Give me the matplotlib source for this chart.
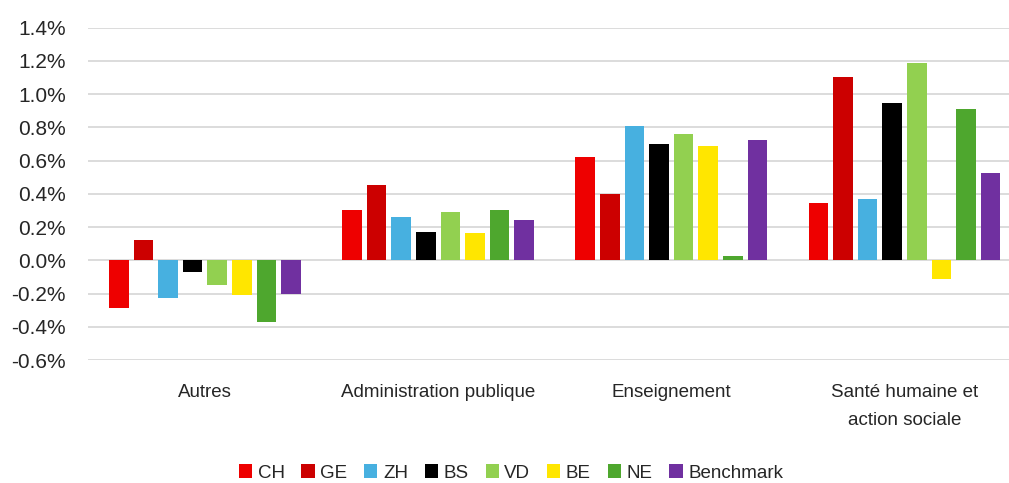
import numpy as np
import matplotlib
matplotlib.use("Agg")
import matplotlib.pyplot as plt
from matplotlib.ticker import PercentFormatter, MultipleLocator
from matplotlib import font_manager as fm

# categories and series (values as fractions)
categories = ['Autres', 'Administration publique', 'Enseignement',
              'Santé humaine et\naction sociale']
regions = ['CH', 'GE', 'ZH', 'BS', 'VD', 'BE', 'NE', 'Benchmark']
CH = [-0.00286, 0.00300, 0.00624, 0.00344]
GE = [0.00120, 0.00452, 0.00400, 0.01104]
ZH = [-0.00228, 0.00260, 0.00806, 0.00372]
BS = [-0.00072, 0.00168, 0.00702, 0.00948]
VD = [-0.00150, 0.00290, 0.00758, 0.01188]
BE = [-0.00206, 0.00164, 0.00688, -0.00114]
NE = [-0.00372, 0.00300, 0.00024, 0.00912]
Benchmark = [-0.00200, 0.00240, 0.00726, 0.00524]
series = [CH, GE, ZH, BS, VD, BE, NE, Benchmark]
colors = ['#EE0000', '#CC0000', '#47B0E0', '#000000',
          '#92D050', '#FFE600', '#4EA72E', '#7030A0']

plt.rcParams['font.family'] = ['Liberation Sans', 'DejaVu Sans']
plt.rcParams['axes.unicode_minus'] = False  # excel uses a plain hyphen

fig = plt.figure(figsize=(10.09, 4.83), dpi=100)
W, H = 1009.0, 483.0
ax = fig.add_axes([88.3 / W, (H - 360) / H, (1021 - 88.3) / W, (360 - 27.7) / H])

x = np.arange(len(categories))
pitch = 0.1055
bw = 0.084
for i, (name, vals) in enumerate(zip(regions, series)):
    off = (i - (len(regions) - 1) / 2) * pitch
    ax.bar(x + off, vals, bw, color=colors[i], label=name, zorder=3)

ax.set_xlim(-0.5, len(categories) - 0.5)
ax.set_ylim(-0.006, 0.014)
ax.yaxis.set_major_locator(MultipleLocator(0.002))
ax.yaxis.set_major_formatter(PercentFormatter(1.0, decimals=1))
ax.grid(axis='y', color='#D9D9D9', linewidth=1.3, zorder=0)
for s in ax.spines.values():
    s.set_visible(False)
ax.tick_params(axis='both', length=0, colors='#262626')
ax.tick_params(axis='y', labelsize=15, pad=16)
ax.set_xticks(x)
ax.set_xticklabels(categories, fontsize=13.5, linespacing=1.9)
ax.tick_params(axis='x', pad=17)

leg = fig.legend(loc='center', bbox_to_anchor=(511 / W, (H - 473) / H), ncol=8,
                 frameon=False, fontsize=13.5, handlelength=0.7, handleheight=0.7,
                 handletextpad=0.3, columnspacing=0.9)
for t in leg.get_texts():
    t.set_color('#262626')

fig.savefig('out.png', dpi=100)
